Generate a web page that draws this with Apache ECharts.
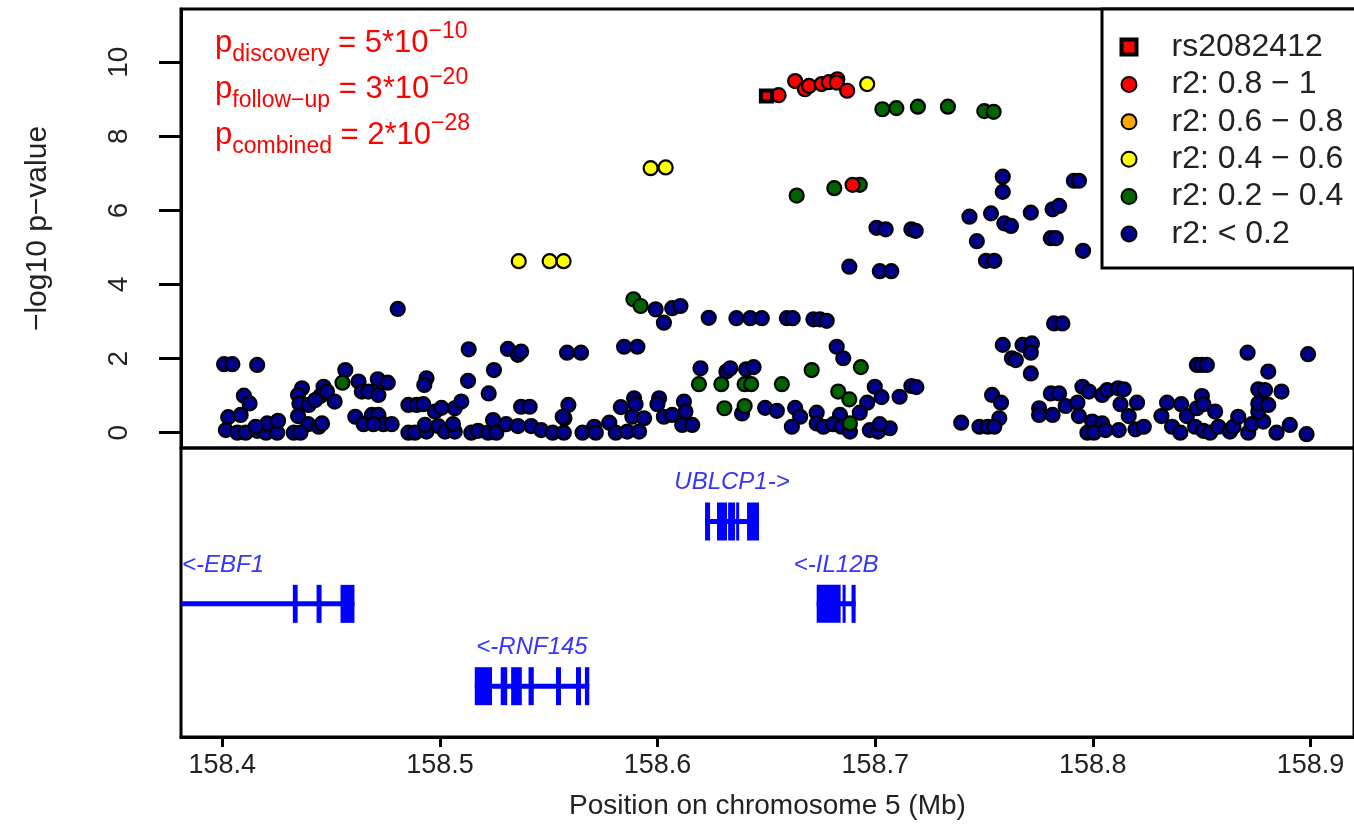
<!DOCTYPE html>
<html><head><meta charset="utf-8">
<script src="https://cdn.jsdelivr.net/npm/echarts@6/dist/echarts.min.js"></script>
<style>html,body{margin:0;padding:0;background:#fff}#c{width:1354px;height:825px}</style>
</head><body><div id="c"></div><script>
const FONT = '"Liberation Sans", Arial, sans-serif';

// x tick labels (Mb) and y tick labels
const xTicks = [158.4, 158.5, 158.6, 158.7, 158.8, 158.9];
const yTicks = [0, 2, 4, 6, 8, 10];

// index SNP
const indexSnp = [[158.6500, 9.09]];
// r2: 0.8 - 1
const ldRed = [[158.6556,9.11],[158.6632,9.49],[158.6677,9.27],[158.6696,9.36],[158.6754,9.41],[158.6787,9.46],[158.6826,9.54],[158.6823,9.45],[158.6871,9.23],[158.6896,6.69]];
// r2: 0.6 - 0.8
const ldOrange = [];
// r2: 0.4 - 0.6
const ldYellow = [[158.6963,9.41],[158.5968,7.14],[158.6037,7.16],[158.5362,4.63],[158.5504,4.63],[158.5568,4.63]];
// r2: 0.2 - 0.4
const ldGreen = [[158.4552,1.35],[158.5889,3.60],[158.5922,3.42],[158.6190,1.31],[158.6293,1.31],[158.6400,1.31],[158.6430,1.31],[158.6571,1.31],[158.6307,0.66],[158.6400,0.72],[158.6708,1.69],[158.6934,1.77],[158.6830,1.11],[158.6881,0.90],[158.6884,0.25],[158.7033,8.73],[158.7097,8.76],[158.7196,8.80],[158.7334,8.80],[158.7501,8.68],[158.7544,8.66],[158.6639,6.40],[158.6812,6.60],[158.6929,6.69]];
// r2: < 0.2
const ldBlue = [[158.4806,3.34],[158.4008,1.85],[158.4046,1.85],[158.4160,1.83],[158.4099,1.00],[158.4125,0.79],[158.4027,0.42],[158.4084,0.48],[158.4016,0.07],[158.4069,0.00],[158.4107,0.00],[158.4160,0.05],[158.4201,0.00],[158.4252,0.00],[158.4206,0.25],[158.4256,0.32],[158.4153,0.16],[158.4366,1.20],[158.4348,1.02],[158.4354,0.79],[158.4397,0.75],[158.4348,0.45],[158.4394,0.23],[158.4443,0.16],[158.4458,0.25],[158.4328,0.00],[158.4359,0.00],[158.4465,1.24],[158.4450,0.99],[158.4427,0.88],[158.4481,1.11],[158.4516,0.84],[158.4565,1.69],[158.4626,1.38],[158.4641,1.11],[158.4671,1.11],[158.4714,1.44],[158.4760,1.35],[158.4717,1.02],[158.4611,0.43],[158.4649,0.23],[158.4687,0.48],[158.4717,0.48],[158.4740,0.23],[158.4778,0.23],[158.4694,0.23],[158.4855,0.75],[158.4893,0.75],[158.4923,0.77],[158.4855,0.00],[158.4885,0.00],[158.4938,0.03],[158.4931,0.21],[158.4938,1.47],[158.4928,1.29],[158.4977,0.57],[158.5007,0.67],[158.5068,0.66],[158.5098,0.84],[158.4992,0.18],[158.5023,0.03],[158.5068,0.03],[158.5060,0.23],[158.5132,2.25],[158.5129,1.40],[158.5224,1.06],[158.5248,1.69],[158.5312,2.26],[158.5358,2.10],[158.5373,2.19],[158.5144,0.00],[158.5175,0.05],[158.5221,0.00],[158.5244,0.34],[158.5259,0.00],[158.5304,0.23],[158.5358,0.18],[158.5373,0.70],[158.5412,0.70],[158.5419,0.18],[158.5465,0.07],[158.5518,0.00],[158.5569,0.00],[158.5572,0.39],[158.5590,0.75],[158.5584,2.16],[158.5991,3.33],[158.6067,3.36],[158.6105,3.42],[158.6029,2.97],[158.6235,3.10],[158.6362,3.09],[158.6426,3.09],[158.6479,3.09],[158.6594,3.09],[158.6621,3.09],[158.6716,3.06],[158.6746,3.06],[158.6777,3.02],[158.5648,2.16],[158.5846,2.32],[158.5907,2.32],[158.6823,2.32],[158.6853,2.01],[158.6197,1.74],[158.6316,1.65],[158.6334,1.74],[158.6407,1.71],[158.6441,1.77],[158.6388,0.52],[158.6494,0.67],[158.6548,0.59],[158.6632,0.67],[158.6655,0.43],[158.6617,0.16],[158.6998,1.24],[158.7029,0.96],[158.6963,0.81],[158.6929,0.54],[158.7112,0.97],[158.7166,1.26],[158.7189,1.23],[158.6731,0.54],[158.6838,0.48],[158.6731,0.25],[158.6762,0.16],[158.6807,0.23],[158.6845,0.16],[158.6884,0.03],[158.6975,0.07],[158.7013,0.03],[158.7067,0.12],[158.7021,0.23],[158.5564,0.43],[158.5655,0.00],[158.5709,0.16],[158.5716,0.00],[158.5778,0.27],[158.5808,0.00],[158.5831,0.69],[158.5861,0.03],[158.5892,0.93],[158.5899,0.77],[158.5884,0.43],[158.5938,0.39],[158.5915,0.03],[158.6007,0.93],[158.5999,0.77],[158.6029,0.43],[158.6067,0.48],[158.6121,0.84],[158.6128,0.57],[158.6113,0.21],[158.6159,0.21],[158.7006,5.53],[158.7048,5.49],[158.7166,5.49],[158.7186,5.45],[158.6881,4.48],[158.7021,4.36],[158.7074,4.36],[158.7433,5.83],[158.7532,5.92],[158.7467,5.17],[158.7509,4.64],[158.7547,4.64],[158.7586,6.91],[158.7586,6.50],[158.7593,5.65],[158.7624,5.58],[158.7715,5.94],[158.7815,6.03],[158.7845,6.12],[158.7913,6.80],[158.7936,6.80],[158.7807,5.25],[158.7830,5.25],[158.7955,4.91],[158.7822,2.95],[158.7860,2.95],[158.7586,2.37],[158.7677,2.37],[158.7720,2.41],[158.7715,2.16],[158.7628,2.01],[158.7646,1.96],[158.7715,1.60],[158.8711,2.16],[158.8989,2.12],[158.8806,1.65],[158.8478,1.83],[158.8501,1.83],[158.8524,1.83],[158.7537,1.02],[158.7578,0.81],[158.7570,0.39],[158.7395,0.27],[158.7479,0.16],[158.7517,0.16],[158.7547,0.16],[158.7753,0.66],[158.7753,0.48],[158.7815,0.48],[158.7807,1.06],[158.7845,1.06],[158.7875,0.72],[158.7929,0.81],[158.7952,1.24],[158.7982,1.11],[158.8043,1.02],[158.8066,1.15],[158.8116,1.20],[158.8142,1.17],[158.8127,0.77],[158.8203,0.81],[158.8165,0.45],[158.7936,0.45],[158.7997,0.30],[158.8043,0.25],[158.7975,0.00],[158.8005,0.00],[158.8058,0.07],[158.8119,0.07],[158.8196,0.09],[158.8234,0.16],[158.8341,0.81],[158.8406,0.77],[158.8315,0.45],[158.8432,0.45],[158.8478,0.66],[158.8501,0.99],[158.8508,0.77],[158.8562,0.57],[158.8364,0.16],[158.8402,0.00],[158.8470,0.16],[158.8508,0.05],[158.8539,0.00],[158.8577,0.16],[158.8630,0.03],[158.8646,0.16],[158.8668,0.43],[158.8714,0.00],[158.8730,0.23],[158.8783,0.30],[158.8760,0.57],[158.8760,0.79],[158.8806,0.75],[158.8760,1.17],[158.8791,1.15],[158.8867,1.11],[158.8844,0.00],[158.8905,0.21],[158.8982,-0.04]];

// genes
const geneLabels = ['UBLCP1->', '<-EBF1', '<-IL12B', '<-RNF145'];
const geneRows = [1, 2, 2, 3];
const geneStarts = [158.6218, 158.3000, 158.6731, 158.5160];
const geneEnds = [158.6466, 158.4607, 158.6910, 158.5686];
const exonStarts = [
  [158.6218, 158.6273, 158.6324, 158.6361, 158.6411],
  [158.4324, 158.4433, 158.4543],
  [158.6731, 158.6850, 158.6891],
  [158.5160, 158.5279, 158.5327, 158.5407, 158.5533, 158.5625, 158.5666]
];
const exonEnds = [
  [158.6241, 158.6319, 158.6356, 158.6370, 158.6466],
  [158.4346, 158.4456, 158.4607],
  [158.6841, 158.6864, 158.6910],
  [158.5239, 158.5309, 158.5376, 158.5431, 158.5556, 158.5648, 158.5686]
];

const X_MIN = 158.381, X_MAX = 158.920;
const legendNames = ['rs2082412', 'r2: 0.8 \u2212 1', 'r2: 0.6 \u2212 0.8', 'r2: 0.4 \u2212 0.6', 'r2: 0.2 \u2212 0.4', 'r2: < 0.2'];

function pointSeries(name, data, color) {
  return {
    type: 'scatter', name: name, data: data, xAxisIndex: 0, yAxisIndex: 0,
    symbol: 'circle', symbolSize: 14,
    itemStyle: { color: color, borderColor: '#000', borderWidth: 2.2, opacity: 1 },
    emphasis: { disabled: true }, z: 3
  };
}

const chart = echarts.init(document.getElementById('c'), null, { renderer: 'canvas' });
chart.setOption({
  animation: false,
  backgroundColor: '#fff',
  textStyle: { fontFamily: FONT },
  grid: [
    { left: 181, top: 9, width: 1178, height: 439, show: true, borderColor: '#000', borderWidth: 3, backgroundColor: 'transparent' },
    { left: 181, top: 448, width: 1178, height: 289, show: true, borderColor: '#000', borderWidth: 3, backgroundColor: 'transparent' }
  ],
  xAxis: [
    { type: 'value', gridIndex: 0, min: X_MIN, max: X_MAX, show: false },
    { type: 'value', gridIndex: 1, min: X_MIN, max: X_MAX,
      axisLine: { show: true, onZero: false, lineStyle: { color: '#000', width: 3 } },
      axisTick: { show: true, length: 10, lineStyle: { color: '#000', width: 3 }, customValues: xTicks },
      axisLabel: { show: true, customValues: xTicks, fontSize: 27, color: '#222', fontFamily: FONT, margin: 15,
        formatter: v => v.toFixed(1) },
      splitLine: { show: false },
      name: 'Position on chromosome 5 (Mb)', nameLocation: 'middle', nameGap: 55,
      nameTextStyle: { fontSize: 28, color: '#222', fontFamily: FONT }
    }
  ],
  yAxis: [
    { type: 'value', gridIndex: 0, min: -0.413, max: 11.436,
      axisLine: { show: true, onZero: false, lineStyle: { color: '#000', width: 3 } },
      axisTick: { show: true, length: 22, lineStyle: { color: '#000', width: 3 }, customValues: yTicks },
      axisLabel: { show: true, customValues: yTicks, rotate: 90, fontSize: 28, color: '#222', fontFamily: FONT, margin: 48 },
      splitLine: { show: false },
      name: '\u2212log10 p\u2212value', nameLocation: 'middle', nameGap: 128, nameRotate: 90,
      nameTextStyle: { fontSize: 30, color: '#222', fontFamily: FONT }
    },
    { type: 'value', gridIndex: 1, min: 0.1075, max: 3.617, inverse: true, show: false }
  ],
  legend: {
    orient: 'vertical', left: 1102, top: 9,
    padding: [19.3, 30, 15.3, 17.5],
    borderColor: '#000', borderWidth: 3, backgroundColor: '#fff',
    itemWidth: 15, itemHeight: 15, itemGap: 0,
    selectedMode: false,
    textStyle: { fontSize: 32, lineHeight: 37.4, color: '#222', fontFamily: FONT, padding: [0, 0, 0, 30] },
    data: legendNames.map((n, i) => i === 0
      ? { name: n, icon: 'rect', itemStyle: { color: '#FF0000', borderColor: '#000', borderWidth: 4 } }
      : { name: n, icon: 'circle' })
  },
  graphic: [{
    type: 'text', left: 215, top: 20, z: 10,
    style: {
      text: '{m|p}{s|discovery}{m| = 5*10}{u|\u221210}\n{m|p}{s|follow\u2212up}{m| = 3*10}{u|\u221220}\n{m|p}{s|combined}{m| = 2*10}{u|\u221228}',
      fill: '#ff0000',
      rich: {
        m: { fontSize: 31, lineHeight: 46, fill: '#ff0000', fontFamily: FONT },
        s: { fontSize: 23, lineHeight: 26, verticalAlign: 'bottom', fill: '#ff0000', fontFamily: FONT },
        u: { fontSize: 23, lineHeight: 22, verticalAlign: 'top', fill: '#ff0000', fontFamily: FONT }
      }
    }
  }],
  series: [
    pointSeries(legendNames[5], ldBlue, '#00008B'),
    pointSeries(legendNames[4], ldGreen, '#006400'),
    pointSeries(legendNames[3], ldYellow, '#FFFF00'),
    pointSeries(legendNames[2], ldOrange, '#FFA500'),
    pointSeries(legendNames[1], ldRed, '#FF0000'),
    {
      type: 'scatter', name: legendNames[0], data: indexSnp, xAxisIndex: 0, yAxisIndex: 0,
      symbol: 'rect', symbolSize: 11,
      itemStyle: { color: '#FF0000', borderColor: '#000', borderWidth: 4, opacity: 1 },
      emphasis: { disabled: true }, z: 4
    },
    {
      type: 'custom', name: 'genes', xAxisIndex: 1, yAxisIndex: 1, clip: true, silent: true,
      data: geneLabels.map((g, i) => [geneStarts[i], geneRows[i], i]),
      encode: { x: 0, y: 1 },
      renderItem: function (params, api) {
        const i = api.value(2);
        const row = api.value(1);
        const cs = params.coordSys;
        const p0 = api.coord([geneStarts[i], row]);
        const p1 = api.coord([geneEnds[i], row]);
        const y = p0[1];
        const children = [];
        children.push({ type: 'rect', shape: { x: p0[0], y: y - 2.5, width: p1[0] - p0[0], height: 5 }, style: { fill: '#0000FF' } });
        exonStarts[i].forEach((s, k) => {
          const a = api.coord([s, row])[0];
          const b = api.coord([exonEnds[i][k], row])[0];
          children.push({ type: 'rect', shape: { x: a, y: y - 19, width: Math.max(b - a, 3), height: 38 }, style: { fill: '#0000FF' } });
        });
        let lx = (p0[0] + p1[0]) / 2, align = 'center';
        if (geneStarts[i] < X_MIN) { lx = cs.x + 1; align = 'left'; }
        children.push({ type: 'text', x: lx, y: y - 39,
          style: { text: geneLabels[i], fill: '#3535ff', font: 'italic 24px ' + FONT, align: align, verticalAlign: 'middle' } });
        return { type: 'group', children: children };
      }
    }
  ]
});
</script></body></html>
